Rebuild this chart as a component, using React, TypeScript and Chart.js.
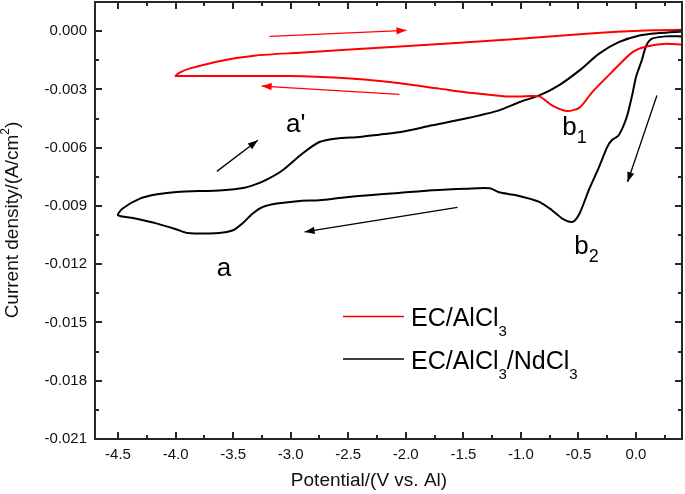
import React, { useEffect, useRef } from 'react';
import { Chart, registerables } from 'chart.js';

Chart.register(...registerables);

const FONT = "'Liberation Sans', Arial, Helvetica, sans-serif";

// Axis ticks
const xTickValues = [-4.5, -4.0, -3.5, -3.0, -2.5, -2.0, -1.5, -1.0, -0.5, 0.0];
const yTickValues = [0, -0.003, -0.006, -0.009, -0.012, -0.015, -0.018, -0.021];

// EC/AlCl3 (red) CV loop
const redX = [0.40, 0.26, 0.09, -0.03, -0.21, -0.38, -0.49, -0.60, -0.73, -0.84,
  -1.01, -1.13, -1.42, -1.71, -2.14, -2.58, -3.01, -3.53, -3.98, -4.00,
  -3.96, -3.88, -3.59, -3.30, -2.92, -2.05, -1.01, -0.43, 0.14, 0.40];
const redY = [-0.00070, -0.00065, -0.00079, -0.00108, -0.00211, -0.00314, -0.00394, -0.00411, -0.00382, -0.00336,
  -0.00336, -0.00336, -0.00319, -0.00296, -0.00262, -0.00240, -0.00231, -0.00231, -0.00231, -0.00231,
  -0.00212, -0.00193, -0.00151, -0.00125, -0.00111, -0.00079, -0.00039, -0.00013, 0.00004, 0.00007];

// EC/AlCl3/NdCl3 (black) CV loop
const blackX = [0.40, 0.26, 0.14, 0.09, 0.05, 0.00, -0.03, -0.08, -0.15, -0.21,
  -0.25, -0.32, -0.41, -0.49, -0.55, -0.64, -0.73, -0.84, -1.04, -1.19,
  -1.27, -1.47, -1.77, -2.06, -2.32, -2.52, -2.75, -2.92, -3.12, -3.24,
  -3.33, -3.42, -3.50, -3.62, -3.90, -3.99, -4.16, -4.37, -4.50, -4.46,
  -4.31, -4.16, -3.99, -3.59, -3.40, -3.30, -3.20, -3.07, -2.90, -2.75,
  -2.60, -2.40, -2.23, -2.06, -1.77, -1.47, -1.19, -1.01, -0.84, -0.67,
  -0.49, -0.32, -0.15, 0.03, 0.20, 0.40];
const blackY = [-0.00027, -0.00027, -0.00039, -0.00074, -0.00151, -0.00237, -0.00322, -0.00442, -0.00536, -0.00562,
  -0.00597, -0.00699, -0.00819, -0.00939, -0.00982, -0.00965, -0.00922, -0.00879, -0.00845, -0.00830,
  -0.00809, -0.00811, -0.00819, -0.00833, -0.00845, -0.00855, -0.00871, -0.00874, -0.00888, -0.00905,
  -0.00939, -0.00991, -0.01025, -0.01039, -0.01039, -0.01021, -0.00991, -0.00962, -0.00948, -0.00913,
  -0.00862, -0.00840, -0.00828, -0.00819, -0.00806, -0.00788, -0.00762, -0.00716, -0.00631, -0.00571,
  -0.00553, -0.00545, -0.00533, -0.00521, -0.00485, -0.00449, -0.00408, -0.00365, -0.00331, -0.00279,
  -0.00202, -0.00116, -0.00057, -0.00022, -0.00010, -0.00002];

// Arrows: [x1, y1, x2 (tip), y2 (tip)]
const redArrows = [
  [-3.183, -0.00027, -1.994, 0.00004],
  [-2.055, -0.00326, -3.252, -0.00283],
];
const blackArrows = [
  [-3.641, -0.00722, -3.285, -0.00562],
  [-1.551, -0.00907, -2.879, -0.01034],
  [0.182, -0.00331, -0.073, -0.00777],
];

// Peak labels: [text, subscript, x (left), y (baseline)]
const peakLabels: [string, string, number, number][] = [
  ["a'", '', -3.040, -0.00519],
  ['a', '', -3.643, -0.01262],
  ['b', '1', -0.640, -0.00536],
  ['b', '2', -0.536, -0.01148],
];

// Legend entries: rich text parts ([text, isSub])
const seriesNames: [string, number][][] = [
  [['EC/AlCl', 0], ['3', 1]],
  [['EC/AlCl', 0], ['3', 1], ['/NdCl', 0], ['3', 1]],
];
const seriesColors = ['#ff0000', '#000000'];

const xTitle = 'Potential/(V vs. Al)';
const yTitleParts: [string, number][] = [['Current density/(A/cm', 0], ['2', 2], [')', 0]];

function drawRich(ctx: CanvasRenderingContext2D, parts: [string, number][], x: number, y: number,
  size: number, small: number, subDy: number, supDy: number, align: 'left' | 'center') {
  const fMain = `${size}px ${FONT}`;
  const fSmall = `${small}px ${FONT}`;
  let total = 0;
  for (const [t, k] of parts) {
    ctx.font = k ? fSmall : fMain;
    total += ctx.measureText(t).width;
  }
  let cx = align === 'center' ? x - total / 2 : x;
  ctx.textAlign = 'left';
  for (const [t, k] of parts) {
    ctx.font = k ? fSmall : fMain;
    const dy = k === 1 ? subDy : k === 2 ? supDy : 0;
    ctx.fillText(t, cx, y + dy);
    cx += ctx.measureText(t).width;
  }
}

function arrowHead(ctx: CanvasRenderingContext2D, x1: number, y1: number, x2: number, y2: number, color: string) {
  const ang = Math.atan2(y2 - y1, x2 - x1);
  const len = 10, hw = 3.6;
  ctx.fillStyle = color;
  ctx.beginPath();
  ctx.moveTo(x2, y2);
  ctx.lineTo(x2 - len * Math.cos(ang) + hw * Math.sin(ang), y2 - len * Math.sin(ang) - hw * Math.cos(ang));
  ctx.lineTo(x2 - len * Math.cos(ang) - hw * Math.sin(ang), y2 - len * Math.sin(ang) + hw * Math.cos(ang));
  ctx.closePath();
  ctx.fill();
}

const decorPlugin = {
  id: 'decor',
  afterDatasetsDraw(chart: any) {
    const { ctx, chartArea: ca, scales } = chart;
    const xs = scales.x, ys = scales.y;
    ctx.save();
    const heads = (arr: number[][], color: string) => {
      for (const a of arr) {
        arrowHead(ctx, xs.getPixelForValue(a[0]), ys.getPixelForValue(a[1]),
          xs.getPixelForValue(a[2]), ys.getPixelForValue(a[3]), color);
      }
    };
    heads(redArrows, '#ff0000');
    heads(blackArrows, '#000000');

    // frame
    ctx.strokeStyle = '#262626';
    ctx.lineWidth = 2;
    ctx.strokeRect(ca.left, ca.top, ca.right - ca.left, ca.bottom - ca.top);

    // ticks (inward, all four sides)
    const major = 7, minor = 4;
    ctx.beginPath();
    const xStep = xTickValues[1] - xTickValues[0];
    const xMarks: [number, number][] = [];
    for (const v of xTickValues) { xMarks.push([v, major]); }
    for (let v = xTickValues[0] - xStep / 2; v <= xs.max + 1e-9; v += xStep) {
      if (v >= xs.min) xMarks.push([v, minor]);
    }
    for (const [v, l] of xMarks) {
      const p = Math.round(xs.getPixelForValue(v));
      ctx.moveTo(p, ca.bottom); ctx.lineTo(p, ca.bottom - l);
      ctx.moveTo(p, ca.top); ctx.lineTo(p, ca.top + l);
    }
    const yStep = yTickValues[0] - yTickValues[1];
    const yMarks: [number, number][] = [];
    for (const v of yTickValues) { yMarks.push([v, major]); }
    for (let v = yTickValues[0] + yStep / 2; v >= ys.min - 1e-9; v -= yStep) {
      if (v <= ys.max + 1e-9) yMarks.push([v, minor]);
    }
    for (const [v, l] of yMarks) {
      const p = Math.round(ys.getPixelForValue(v));
      ctx.moveTo(ca.left, p); ctx.lineTo(ca.left + l, p);
      ctx.moveTo(ca.right, p); ctx.lineTo(ca.right - l, p);
    }
    ctx.stroke();

    // peak labels
    ctx.fillStyle = '#000';
    ctx.textBaseline = 'alphabetic';
    for (const [t, s, vx, vy] of peakLabels) {
      const px = xs.getPixelForValue(vx), py = ys.getPixelForValue(vy);
      const parts: [string, number][] = s ? [[t, 0], [s, 1]] : [[t, 0]];
      drawRich(ctx, parts, px, py, 26, 18, 8, 0, 'left');
    }

    // legend
    const lx1 = 343, lx2 = 404, tx = 411;
    const rows = [316.5, 359];
    seriesNames.forEach((parts, i) => {
      ctx.strokeStyle = seriesColors[i];
      ctx.lineWidth = 1.6;
      ctx.beginPath();
      ctx.moveTo(lx1, rows[i]); ctx.lineTo(lx2, rows[i]);
      ctx.stroke();
      ctx.fillStyle = '#000';
      ctx.textBaseline = 'alphabetic';
      drawRich(ctx, parts, tx, rows[i] + 9.5, 25, 15, 10, 0, 'left');
    });

    // axis titles
    ctx.fillStyle = '#111';
    ctx.textBaseline = 'middle';
    ctx.font = `19px ${FONT}`;
    ctx.textAlign = 'center';
    ctx.fillText(xTitle, 369, 481);
    ctx.save();
    ctx.translate(13, 220);
    ctx.rotate(-Math.PI / 2);
    drawRich(ctx, yTitleParts, 0, 0, 19, 12, 0, -7, 'center');
    ctx.restore();

    ctx.restore();
  },
};

export default function App() {
  const ref = useRef<HTMLCanvasElement | null>(null);
  useEffect(() => {
    if (!ref.current) return;
    const line = (xv: number[], yv: number[], color: string, w: number, tension: number) => ({
      data: xv.map((x, i) => ({ x, y: yv[i] })),
      borderColor: color,
      backgroundColor: color,
      borderWidth: w,
      showLine: true,
      pointRadius: 0,
      fill: false,
      tension,
    });
    const datasets: any[] = [
      line(redX, redY, '#ff0000', 2, 0.25),
      line(blackX, blackY, '#000000', 2, 0.25),
      ...redArrows.map(a => line([a[0], a[2]], [a[1], a[3]], '#ff0000', 1.3, 0)),
      ...blackArrows.map(a => line([a[0], a[2]], [a[1], a[3]], '#000000', 1.3, 0)),
    ];
    const chart = new Chart(ref.current, {
      type: 'scatter',
      data: { datasets },
      options: {
        responsive: false,
        animation: false,
        devicePixelRatio: 1,
        layout: { padding: { left: 8, top: 2, right: 3, bottom: 0 } },
        plugins: { legend: { display: false }, tooltip: { enabled: false } },
        scales: {
          x: {
            type: 'linear',
            min: -4.7,
            max: 0.4,
            grid: { display: false, drawTicks: false },
            border: { display: false },
            afterBuildTicks: (s: any) => { s.ticks = xTickValues.map(v => ({ value: v })); },
            afterFit: (s: any) => { s.height = 55; s.paddingLeft = 0; s.paddingRight = 0; },
            ticks: {
              autoSkip: false,
              maxRotation: 0,
              padding: 7,
              color: '#111',
              font: { family: FONT, size: 15 },
              callback: (v: any) => Number(v).toFixed(1),
            },
          },
          y: {
            type: 'linear',
            min: -0.021,
            max: 0.0015,
            grid: { display: false, drawTicks: false },
            border: { display: false },
            afterBuildTicks: (s: any) => { s.ticks = yTickValues.map(v => ({ value: v })); },
            afterFit: (s: any) => { s.width = 87; s.paddingTop = 0; s.paddingBottom = 0; },
            ticks: {
              autoSkip: false,
              padding: 8,
              color: '#111',
              font: { family: FONT, size: 15 },
              callback: (v: any) => Number(v).toFixed(3),
            },
          },
        },
      },
      plugins: [decorPlugin],
    } as any);
    return () => chart.destroy();
  }, []);
  return (
    <div style={{ position: 'fixed', left: 0, top: 0, width: 685, height: 494, background: '#fff' }}>
      <canvas ref={ref} width={685} height={494} style={{ display: 'block', width: 685, height: 494 }} />
    </div>
  );
}
